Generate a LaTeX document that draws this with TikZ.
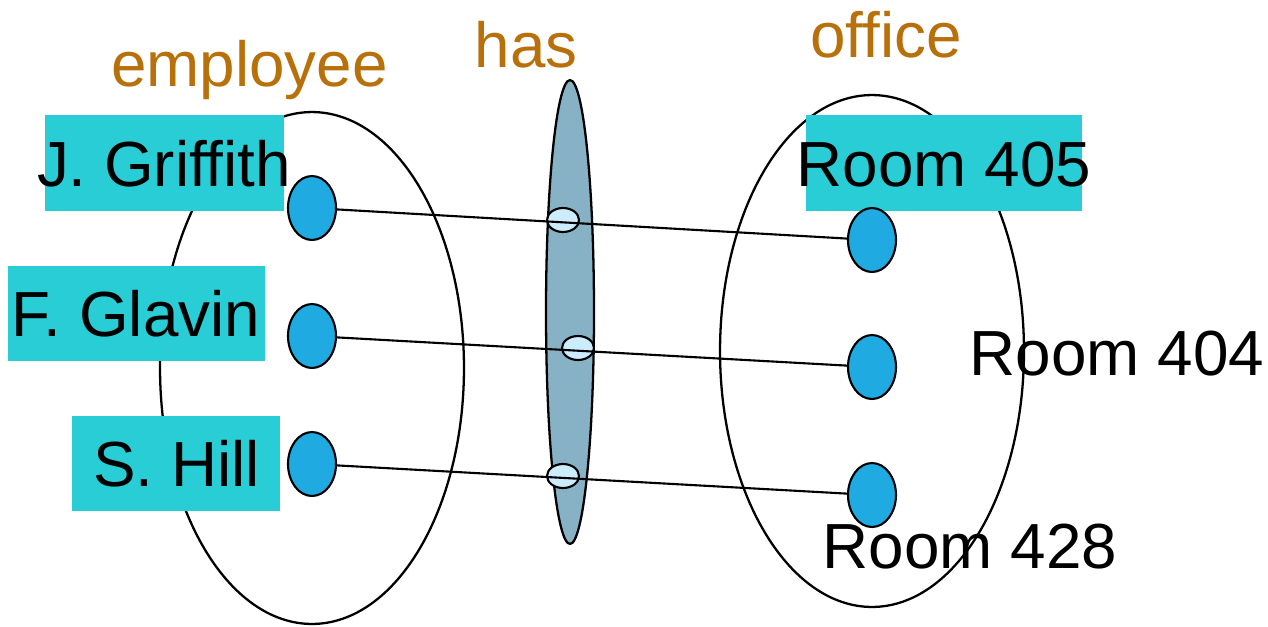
\documentclass[tikz,border=0pt]{standalone}
\usepackage{fontspec}
\setmainfont{Liberation Sans}
\usetikzlibrary{positioning, calc, shapes.geometric}

\definecolor{namecyan}{HTML}{29CDD6}
\definecolor{dotblue}{HTML}{1FABE1}
\definecolor{relgray}{HTML}{87B2C6}
\definecolor{pairblue}{HTML}{CCECFF}
\definecolor{setorange}{HTML}{B8700A}

\begin{document}
\begin{tikzpicture}[
  x=0.02cm, y=-0.02cm,
  %% entity sets
  setell/.style={
    ellipse, draw=black, line width=1.3pt,
    minimum width=6.08cm, minimum height=10.24cm, inner sep=0pt
  },
  %% relationship set
  relell/.style={
    ellipse, draw=black, line width=1.3pt, fill=relgray,
    minimum width=0.96cm, minimum height=9.28cm, inner sep=0pt
  },
  %% entity elements
  elemdot/.style={
    ellipse, draw=black, line width=1.2pt, fill=dotblue,
    minimum width=0.96cm, minimum height=1.28cm, inner sep=0pt
  },
  %% relationship pairs
  pairell/.style={
    ellipse, draw=black, line width=1.2pt, fill=pairblue,
    minimum width=0.64cm, minimum height=0.48cm, inner sep=0pt
  },
  %% highlight behind names
  namebox/.style={rectangle, fill=namecyan, minimum height=1.92cm, inner sep=0pt},
  %% texts
  lbl/.style={font=\fontsize{36.3}{40}\selectfont, inner sep=0pt, anchor=base},
  setlbl/.style={lbl, text=setorange},
  link/.style={line width=1.2pt}
]
\useasboundingbox (0,0) rectangle (1268,626);

%% ================================================================
%% SETS
%% ================================================================
\node[setell] (employee) at (312,368) {};
\node[setell] (office) at (872,351) {};
\node[relell] (has) at (570,312) {};

\node[setlbl] (emplbl) at (249.5,86) {employee};
\node[setlbl] (haslbl) at (526,67) {has};
\node[setlbl] (offlbl) at (886,57) {office};

%% ================================================================
%% NAMES
%% ================================================================
\node[namebox, minimum width=4.78cm] (jgbox) at (164.5,163) {};
\node[namebox, minimum width=5.14cm] (fgbox) at (136.5,313.5) {};
\node[namebox, minimum width=4.16cm] (shbox) at (176,463.5) {};
\node[namebox, minimum width=5.52cm] (r405box) at (944,163) {};

\node[lbl] (jgname) at (164,186) {J. Griffith};
\node[lbl] (fgname) at (136,336) {F. Glavin};
\node[lbl] (shname) at (176.5,486) {S. Hill};
\node[lbl] (r405name) at (944,186) {Room 405};
\node[lbl] (r404name) at (1117,375) {Room 404};
\node[lbl] (r428name) at (970,568) {Room 428};

%% ================================================================
%% ELEMENTS AND PAIRS
%% ================================================================
\node[elemdot] (jgdot) at (312,208) {};
\node[elemdot] (fgdot) at (312,336) {};
\node[elemdot] (shdot) at (312,464) {};
\node[elemdot] (r405dot) at (872,240) {};
\node[elemdot] (r404dot) at (872,367) {};
\node[elemdot] (r428dot) at (872,495) {};

\node[pairell] (pair1) at (563,220) {};
\node[pairell] (pair2) at (578,348) {};
\node[pairell] (pair3) at (563,476) {};

\draw[link] (jgdot) -- (r405dot);
\draw[link] (fgdot) -- (r404dot);
\draw[link] (shdot) -- (r428dot);

\end{tikzpicture}
\end{document}
